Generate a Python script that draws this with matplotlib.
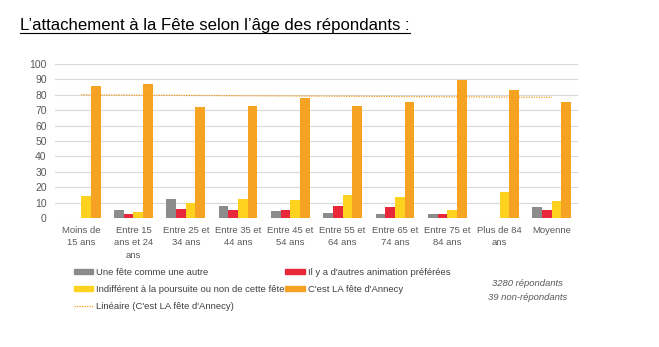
import matplotlib
matplotlib.use("Agg")
import matplotlib.pyplot as plt
import numpy as np
from matplotlib.patches import Patch
from matplotlib.lines import Line2D

plt.rcParams['font.family'] = ['Liberation Sans', 'DejaVu Sans']

# Tranches d'âge et pourcentages par réponse
categories = ["Moins de\n15 ans", "Entre 15\nans et 24\nans", "Entre 25 et\n34 ans",
              "Entre 35 et\n44 ans", "Entre 45 et\n54 ans", "Entre 55 et\n64 ans",
              "Entre 65 et\n74 ans", "Entre 75 et\n84 ans", "Plus de 84\nans", "Moyenne"]
une_fete = [0, 5.4, 12.3, 8.0, 4.3, 3.0, 2.6, 2.6, 0, 7.1]
autres_anim = [0, 2.4, 6.0, 5.4, 5.0, 7.6, 7.1, 2.6, 0, 5.4]
indifferent = [14.5, 3.7, 9.5, 12.3, 11.9, 14.7, 13.4, 5.2, 16.6, 11.2]
fete_annecy = [85.7, 87.0, 72.0, 73.0, 77.8, 72.8, 75.2, 89.6, 83.2, 75.4]

noms = ["Une fête comme une autre", "Il y a d'autres animation préférées",
        "Indifférent à la poursuite ou non de cette fête", "C'est LA fête d'Annecy"]
couleurs = ["#8C8C8C", "#E8283A", "#FFD21F", "#F6A323"]
texte = "#595959"

fig = plt.figure(figsize=(6.59, 3.47), dpi=100)
ax = fig.add_axes([0.0835, 0.372, 0.7935, 0.4435])

x = np.arange(len(categories))
w = 0.185
series = [une_fete, autres_anim, indifferent, fete_annecy]
for i, (vals, c) in enumerate(zip(series, couleurs)):
    ax.bar(x + (i - 1.5) * w, vals, w, color=c, zorder=3)

# courbe de tendance linéaire sur "C'est LA fête d'Annecy"
a, b = np.polyfit(x, fete_annecy, 1)
ax.plot(x, a * x + b, linestyle=(0, (1, 1)), color="#F29A1C", linewidth=0.9, zorder=4)

ax.set_xlim(-0.5, len(categories) - 0.5)
ax.set_ylim(0, 100)
ax.set_yticks(range(0, 101, 10))
ax.grid(axis="y", color="#D9D9D9", linewidth=0.8, zorder=0)
for s in ax.spines.values():
    s.set_visible(False)
ax.tick_params(length=0, colors=texte)
ax.tick_params(axis="x", labelsize=6.8, pad=6)
ax.tick_params(axis="y", labelsize=7.5, pad=6)
ax.set_xticks(x)
ax.set_xticklabels(categories, linespacing=1.45)

handles = [Patch(color=couleurs[0]), Patch(color=couleurs[2]),
           Line2D([0], [0], linestyle=(0, (1, 1)), color="#F29A1C", linewidth=0.9),
           Patch(color=couleurs[1]), Patch(color=couleurs[3])]
labels = [noms[0], noms[2], "Linéaire (C'est LA fête d'Annecy)", noms[1], noms[3]]
fig.legend(handles, labels, ncol=2, loc="upper left", bbox_to_anchor=(0.112, 0.228),
           frameon=False, fontsize=6.8, labelcolor="#404040", handlelength=2.05,
           handleheight=0.45, handletextpad=0.3, labelspacing=0.85, columnspacing=0.1,
           borderpad=0, borderaxespad=0)

fig.text(0.80, 1 - 283 / 347, "3280 répondants", ha="center", va="center",
         style="italic", fontsize=6.8, color=texte)
fig.text(0.80, 1 - 297 / 347, "39 non-répondants", ha="center", va="center",
         style="italic", fontsize=6.8, color=texte)

titre = fig.text(20 / 659, 1 - 30 / 347, "L’attachement à la Fête selon l’âge des répondants :",
                 fontsize=12.1, color="black", va="baseline")
fig.canvas.draw()
bb = titre.get_window_extent().transformed(fig.transFigure.inverted())
y_sous = 1 - 33 / 347
fig.add_artist(Line2D([bb.x0, bb.x1], [y_sous, y_sous], color="black", linewidth=0.8))

fig.savefig("out.png", dpi=100)
